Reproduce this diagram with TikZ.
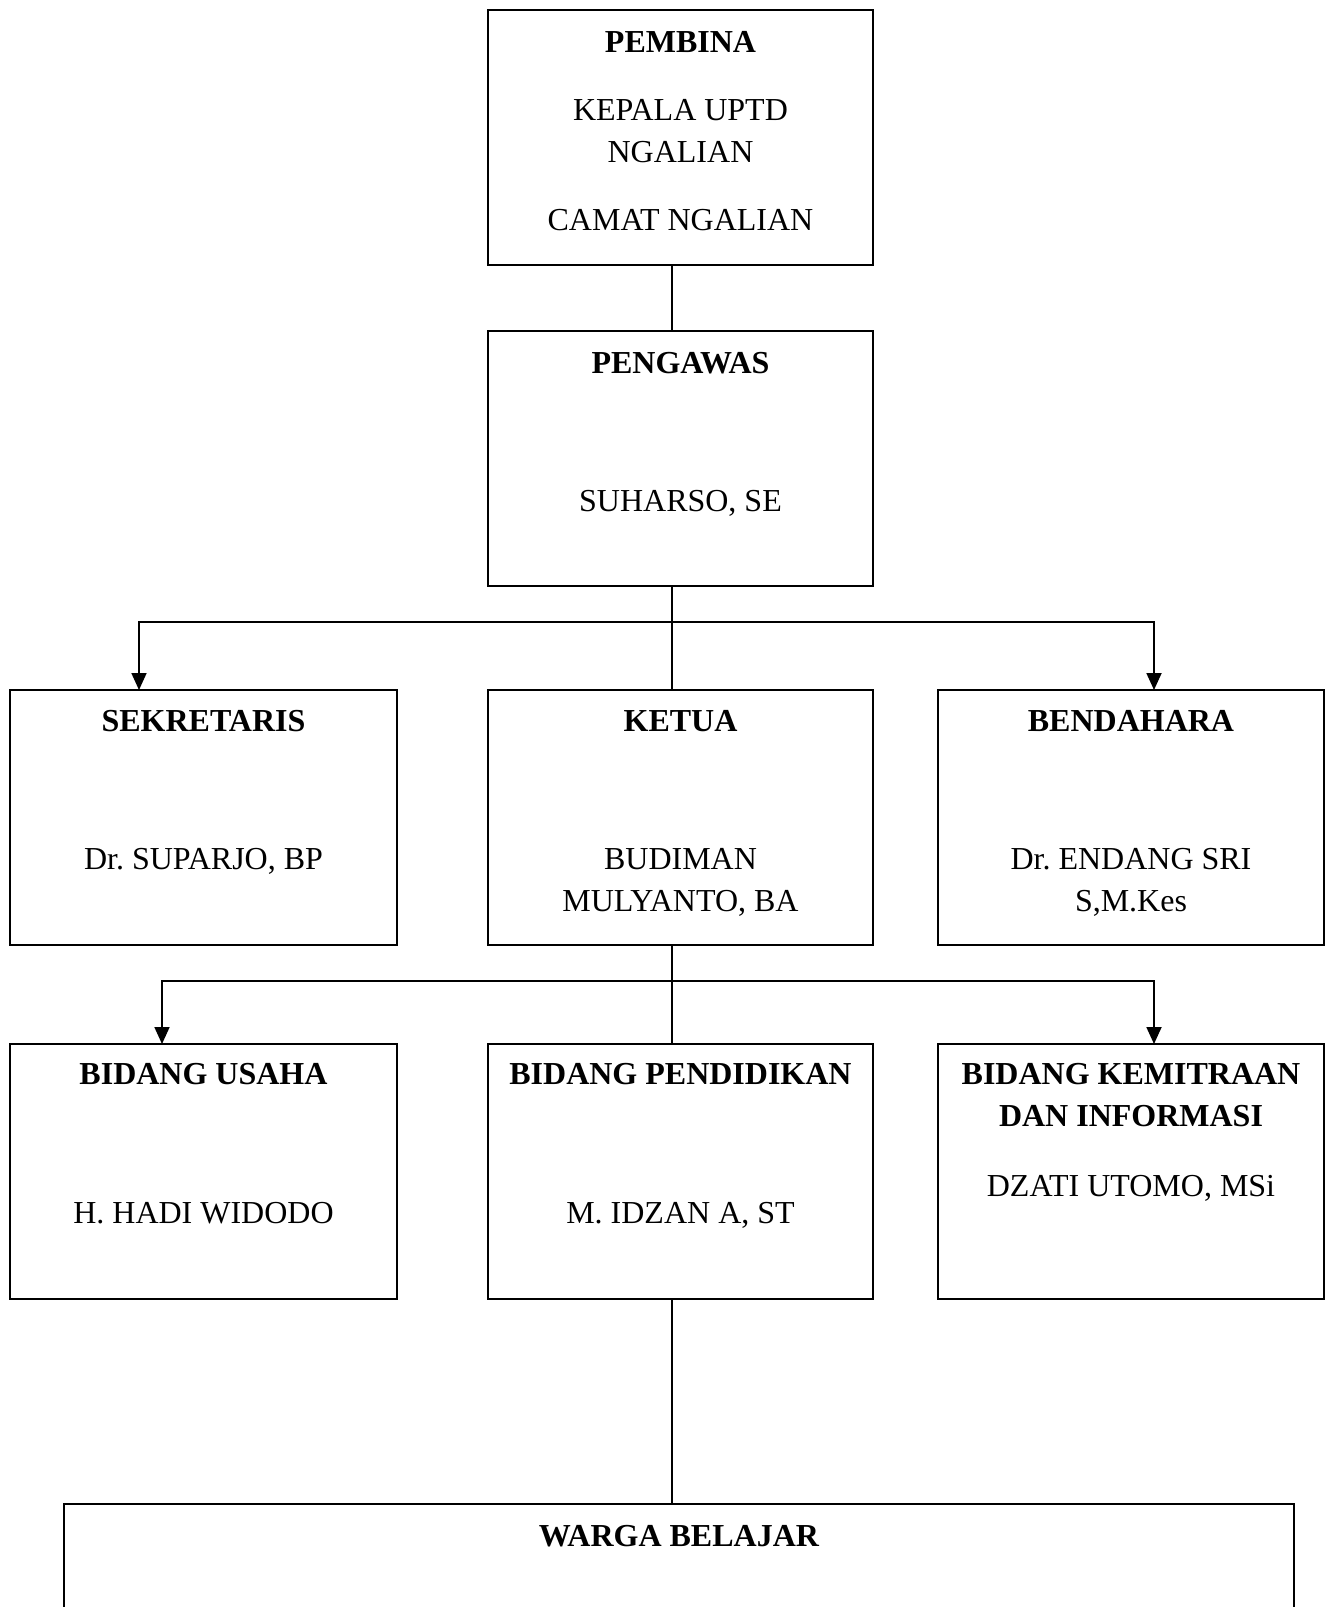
\documentclass[tikz,border=0pt]{standalone}
\usepackage{fontspec}
\setmainfont{Liberation Serif}
\usetikzlibrary{arrows.meta}
\frenchspacing
\begin{document}
\begin{tikzpicture}[x=1pt,y=-1pt,
  box/.style={draw, line width=1.8pt, minimum width=#1, minimum height=255pt, inner sep=0pt},
  lbl/.style={anchor=base, inner sep=0pt, font=\fontsize{32}{42}\selectfont},
  ttl/.style={lbl, font=\fontsize{32}{42}\selectfont\bfseries},
  conn/.style={line width=1.8pt},
  arr/.style={conn, -{Triangle[width=15pt,length=17pt]}}]
\useasboundingbox[fill=white] (0,0) rectangle (1332,1607);
% boxes
\node[box=385pt] (pembina) at (680.5,137.5) {};
\node[box=385pt] (pengawas) at (680.5,458.5) {};
\node[box=387pt] (sek) at (203.5,817.5) {};
\node[box=385pt] (ketua) at (680.5,817.5) {};
\node[box=386pt] (bend) at (1131,817.5) {};
\node[box=387pt] (usaha) at (203.5,1171.5) {};
\node[box=385pt] (pend) at (680.5,1171.5) {};
\node[box=386pt] (kemi) at (1131,1171.5) {};
\node[minimum width=1230pt, minimum height=103pt, inner sep=0pt] (warga) at (679,1555.5) {};
\draw[line width=1.8pt] (warga.south west) -- (warga.north west) -- (warga.north east) -- (warga.south east);
% texts
\node[ttl] (t1) at (680.5,52) {PEMBINA};
\node[lbl] (t1a) at (680.5,120) {KEPALA UPTD};
\node[lbl] (t1b) at (680.5,162) {NGALIAN};
\node[lbl] (t1c) at (680.5,230) {CAMAT NGALIAN};
\node[ttl] (t2) at (680.5,373) {PENGAWAS};
\node[lbl] (t2a) at (680.5,511) {SUHARSO, SE};
\node[ttl] (t3) at (203.5,731) {SEKRETARIS};
\node[lbl] (t3a) at (203.5,869) {Dr. SUPARJO, BP};
\node[ttl] (t4) at (680.5,731) {KETUA};
\node[lbl] (t4a) at (680.5,869) {BUDIMAN};
\node[lbl] (t4b) at (680.5,911) {MULYANTO, BA};
\node[ttl] (t5) at (1131,731) {BENDAHARA};
\node[lbl] (t5a) at (1131,869) {Dr. ENDANG SRI};
\node[lbl] (t5b) at (1131,911) {S,M.Kes};
\node[ttl] (t6) at (203.5,1084) {BIDANG USAHA};
\node[lbl] (t6a) at (203.5,1223) {H. HADI WIDODO};
\node[ttl] (t7) at (680.5,1084) {BIDANG PENDIDIKAN};
\node[lbl] (t7a) at (680.5,1223) {M. IDZAN A, ST};
\node[ttl] (t8) at (1131,1084) {BIDANG KEMITRAAN};
\node[ttl] (t8b) at (1131,1126) {DAN INFORMASI};
\node[lbl] (t8a) at (1131,1196) {DZATI UTOMO, MSi};
\node[ttl] (t9) at (679,1546) {WARGA BELAJAR};
% connectors
\coordinate (spine) at (672,0);
\coordinate (h1) at (672,622);
\coordinate (h2) at (672,981);
\coordinate (sekin) at (139,690);
\coordinate (bendin) at (1154,690);
\coordinate (usahain) at (162,1044);
\coordinate (kemin) at (1154,1044);
\draw[conn] (pembina.south -| spine) -- (pengawas.north -| spine);
\draw[conn] (pengawas.south -| spine) -- (ketua.north -| spine);
\draw[arr] (h1) -| (sekin);
\draw[arr] (h1) -| (bendin);
\draw[conn] (ketua.south -| spine) -- (pend.north -| spine);
\draw[arr] (h2) -| (usahain);
\draw[arr] (h2) -| (kemin);
\draw[conn] (pend.south -| spine) -- (warga.north -| spine);
\end{tikzpicture}
\end{document}
